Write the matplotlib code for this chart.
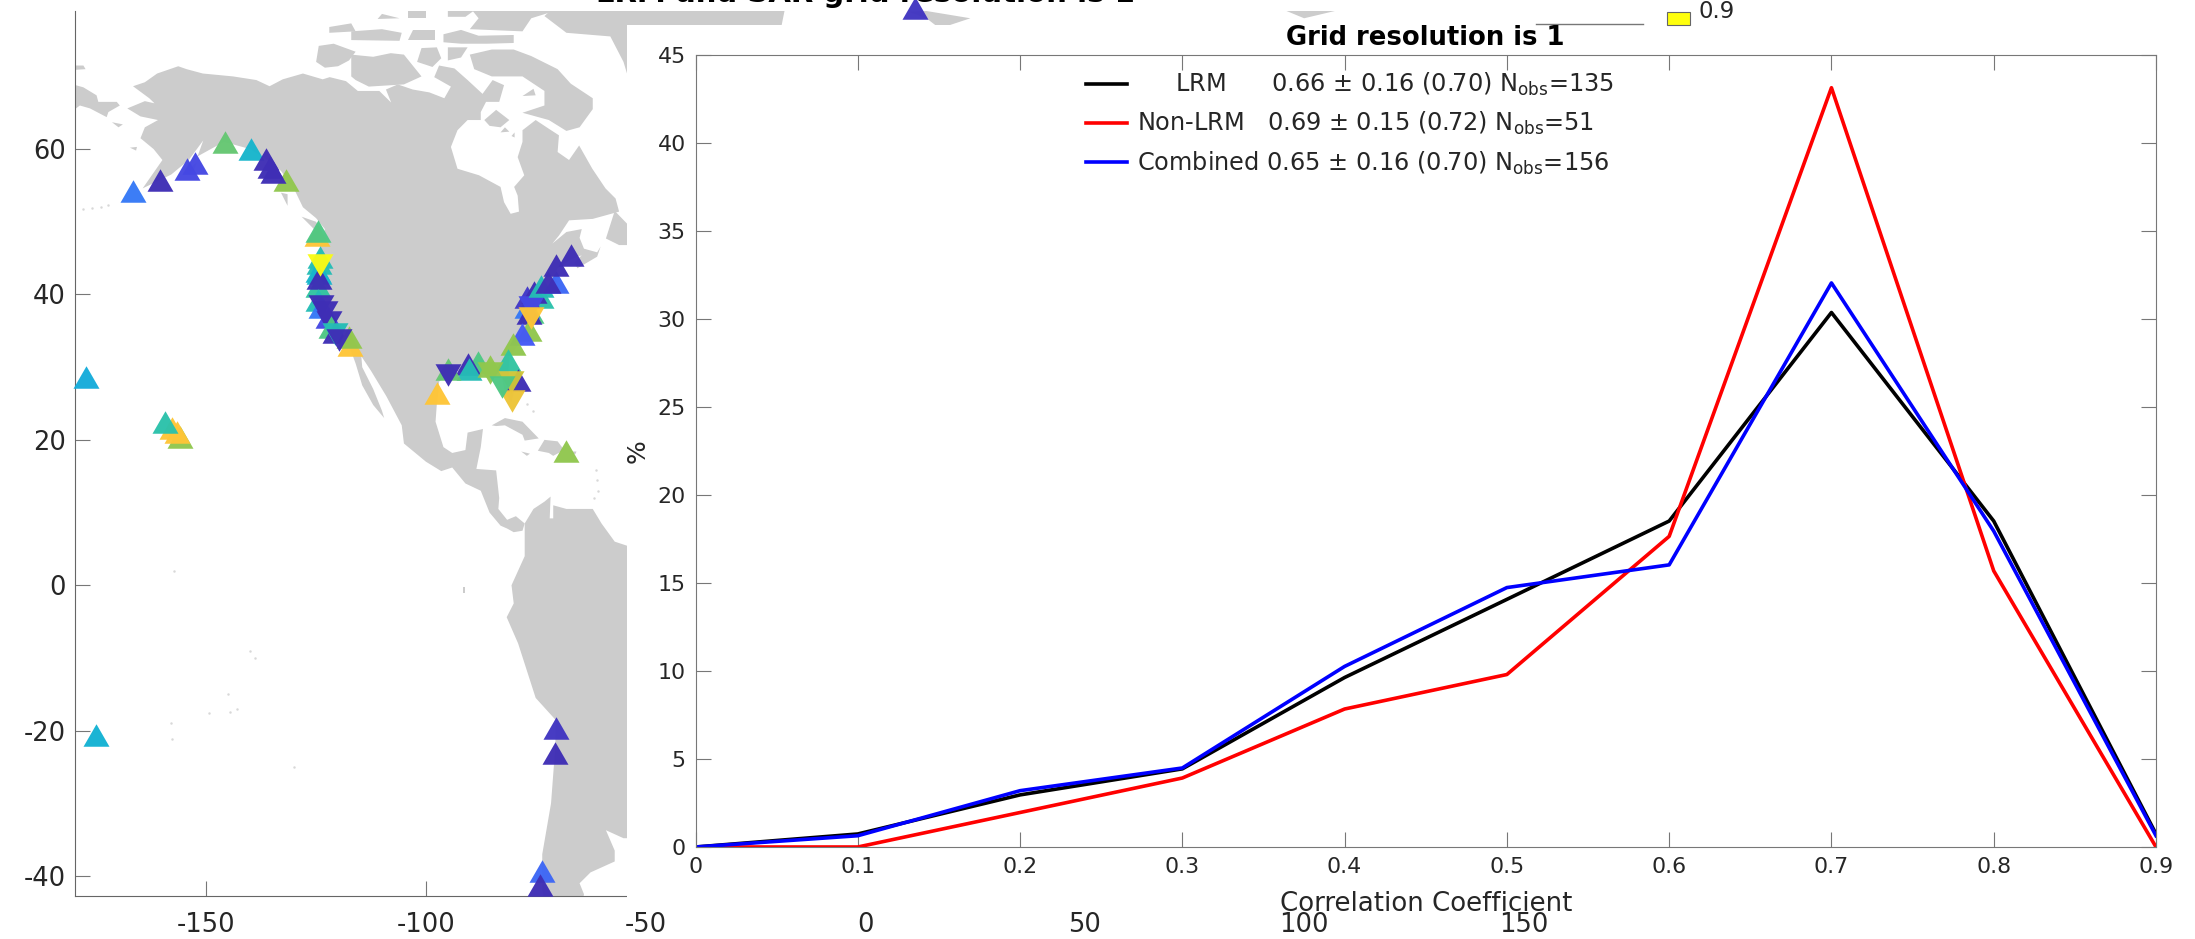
import numpy as np
from matplotlib import pyplot as plt
from matplotlib.colors import LinearSegmentedColormap
from matplotlib.patches import Rectangle

plt.rcParams['axes.unicode_minus']=False

W=2195.
H=939.

# histogram of correlation coefficient
bins=[0,0.1,0.2,0.3,0.4,0.5,0.6,0.7,0.8,0.9]
pct_lrm=[0,0.74,2.96,4.44,9.63,14.07,18.52,30.37,18.52,0.74]
pct_non=[0,0,1.96,3.92,7.84,9.8,17.65,43.14,15.69,0]
pct_com=[0,0.64,3.2,4.49,10.26,14.74,16.03,32.05,17.95,0.64]
lab_lrm=r'     LRM      0.66 $\pm$ 0.16 (0.70) N$_{\mathrm{obs}}$=135'
lab_non=r'Non-LRM   0.69 $\pm$ 0.15 (0.72) N$_{\mathrm{obs}}$=51'
lab_com=r'Combined 0.65 $\pm$ 0.16 (0.70) N$_{\mathrm{obs}}$=156'

# stations, in drawing order
stn_lon=[-166.6,-160.6,-154.4,-152.6,-145.7,-139.8,-131.8,-136.4,-135.6,-134.8,
         -124.8,-124.6,-124.2,-124.4,-124.6,-124.4,-124.6,-124.3,-124.2,
         -124.6,-123.8,-122.3,-123.8,-123,-122.1,-121.6,-120.8,-120.8,
         -117.2,-117.5,-119.7,
         -76.1,-76.9,-76.5,-76.5,-78,-73.8,-76.9,-75.3,-76,-76.1,-73.8,-70.3,-72.3,-70.4,-67,
         -80.1,-81.4,-88.2,-90.3,-90.1,-95,-95,-97.5,-85.3,-85.3,-79.1,-80.6,-80.3,-82.7,
         -68.2,-177.4,-156,-156.7,-157.9,-159.5,-175.2,-70.3,-70.6,-73.6,-74.1,11.5]
stn_lat=[54.3,55.7,57.2,58.1,61,60,55.7,58.7,57.55,56.9,
         48.2,48.8,45.2,44.4,43.3,42.9,41.1,42.2,44.1,
         39.2,38.3,36.9,38.4,37.6,36.2,35.5,34.8,34.6,
         33.1,34.1,33.8,
         37.6,38.3,37.4,35.1,34.6,39.6,39.6,40.3,38.3,36.7,41.2,41.7,41.7,44,45.4,
         33.2,31,30.7,30.5,29.8,29.8,28.9,26.5,30.1,29.2,28.3,27.9,25.3,27.3,
         18.5,28.6,20.4,21.1,21.7,22.4,-20.6,-19.6,-23.1,-39.3,-41.3,79.4]
stn_r=[0.3,0.12,0.19,0.19,0.6,0.46,0.645,0.12,0.12,0.12,
       0.79,0.58,0.5,0.5,0.46,0.46,0.54,0.12,0.9,
       0.5,0.3,0.19,0.12,0.12,0.12,0.58,0.12,0.5,
       0.79,0.645,0.12,
       0.58,0.3,0.12,0.645,0.23,0.52,0.15,0.12,0.19,0.79,0.5,0.26,0.12,0.12,0.12,
       0.645,0.54,0.58,0.12,0.5,0.6,0.12,0.79,0.645,0.645,0.12,0.72,0.76,0.58,
       0.645,0.43,0.645,0.79,0.79,0.52,0.45,0.14,0.12,0.26,0.12,0.14]
stn_down=[0,0,0,0,0,0,0,0,0,0,
          0,0,0,0,0,0,0,0,1,
          0,0,0,1,1,1,0,0,1,
          0,0,1,
          0,0,0,0,0,0,0,0,1,1,0,0,0,0,0,
          0,0,0,0,0,0,1,0,0,1,0,1,1,1,
          0,0,0,0,0,0,0,0,0,0,0,0]

# land, lon/lat outlines
north_america=[(-166.7,68.65),(-164,69.2),(-161.2,70.4),(-156.4,71.4),(-154.5,71),(-150.8,70.4),(-143.9,70),
 (-138.6,69.5),(-135.6,68.65),(-132.6,69.6),(-128,70.4),(-123.5,69.6),(-121.9,69.9),(-118.2,69.35),(-115.5,68),
 (-110.6,68),(-107.9,66.4),(-109.1,68.2),(-106.4,68.9),(-103,68.2),(-99.2,67.8),(-95.8,67),(-94.3,68.6),(-98.1,69.9),
 (-97,71.5),(-93.5,71.1),(-90.5,69.5),(-87.1,67.6),(-84.8,69.5),(-82.2,68.8),(-83.3,66.5),(-86.3,66.5),(-87.5,65.1),
 (-87.5,64),(-90.5,64),(-92.8,62.6),(-94.3,60.3),(-92.8,57.3),(-87.9,56.4),(-83,54.8),(-82.2,52.7),(-80.7,51.1),
 (-78.8,51.4),(-79.1,53.6),(-79.9,54.8),(-77.6,56.4),(-79.1,58.9),(-78,61),(-78,62.6),(-75,64),(-72,62.8),(-69.7,61.9),
 (-70,59.6),(-67.4,58.5),(-65.1,60.5),(-62.1,57.3),(-59.1,54.6),(-56.8,53.2),(-56,51.4),(-62,50.4),(-67.4,50.2),
 (-69.7,48.1),(-71.2,47),(-68,48.6),(-64.5,49),(-65,47.8),(-64,46.3),(-61,45.8),(-60.2,46.6),(-61,45.2),(-65.5,43.6),
 (-66.2,44.4),(-64.5,45.4),(-67,44.8),(-70,43.6),(-70.8,42.5),(-70,41.7),(-74,40.6),(-75.5,38),(-76,35.5),(-78,33.8),
 (-81,31.5),(-81.2,29.5),(-80,26.5),(-80.5,25.2),(-82,26.5),(-82.8,29),(-84.5,30),(-89,30.3),(-90,29.2),(-94,29.5),
 (-97,28),(-97.5,25),(-97.8,22.5),(-96,19),(-94,18.2),(-91,18.6),(-90.5,21),(-87,21.5),(-87.5,19),(-88.5,16),(-84,15.8),
 (-83.3,12),(-83.5,10.5),(-81.5,9),(-79.5,9.5),(-77.5,8.5),(-78,7.5),(-80,7.3),(-81.5,7.8),(-83,8.2),(-85.5,10),
 (-87.5,13),(-91,14),(-94,16.2),(-96.5,15.7),(-100,17),(-105,19.5),(-105.5,22),(-109,26),(-112.5,29.5),(-114.7,31.5),
 (-114.5,30),(-112,27),(-110,24),(-109.5,23),(-112,24.8),(-114.5,27.5),(-116,30.5),(-117.2,32.5),(-118.5,34),
 (-120.5,34.5),(-122,37),(-124,40.3),(-124.3,43),(-124,47),(-123,49),(-125,50.5),(-128,52),(-130,54.5),(-133,57),
 (-136,58.5),(-140,60),(-146,61),(-149,60),(-152,59),(-150.7,61.2),(-154,58.5),(-158,56.5),(-164.5,54.6),(-160,58.5),
 (-162,60),(-165,61.5),(-164,63),(-161,64),(-165,64.5),(-168,65.6),(-164,66.6),(-161.8,66.3),(-163,67)]
south_america=[(-77.5,8.5),(-75.5,10.5),(-73,11.5),(-71.6,12.2),(-71.8,9.2),(-71,9.2),(-71,11),(-68,10.5),(-64,10.5),(-62,10.5),
 (-60,8.5),(-57,6),(-52,5),(-50,1),(-44,-2.5),(-35,-7),(-39,-15),(-41,-22),(-48,-26),(-50.6,-34.8),(-55,-34.8),(-59,-33.7),(-57,-36.5),(-57,-38),
 (-62.5,-39.5),(-65,-41),(-64,-42.5),(-65,-46),(-72,-46),(-73.5,-42),(-73.5,-37),(-71.5,-30),(-70.5,-22),(-70.5,-18.5),(-75,-15.5),
 (-79,-8),(-81.6,-4.4),(-80,-2.5),(-80.5,0),(-79,2),(-77.5,4),(-77.5,7)]
chukotka=[(-181,69),(-178,68.5),(-175,67.4),(-174.6,66.5),(-170.4,66.5),(-169.7,66),(-172.3,65.1),(-172.7,64.4),(-176.5,65.6),(-178.8,66),(-181,65)]
greenland=[(-73,78.3),(-68,76),(-58,75.5),(-55,72),(-53,68),(-51,64),(-44,60),(-20,70),(-19,77),(-18,80),(-70,80)]
islands=[
 [(-125,72),(-124.4,74.2),(-121,74.5),(-116,73.4),(-117.5,72.2),(-120,71.4),(-123,71.2)],
 [(-117,70),(-117,73),(-112,72.7),(-108,73.2),(-105,73),(-101,70),(-105,68.9),(-113,68.6),(-116,69.5)],
 [(-102,72),(-101,73.9),(-97.5,74),(-96.5,72.5),(-98.5,71.3)],
 [(-95,72.2),(-95,74),(-90.5,74),(-92,72.6)],
 [(-90,73),(-85,73.7),(-80,73.7),(-76,72.8),(-70,71),(-67,69),(-62,67),(-62,65.5),(-65,63),(-68,62.5),(-72,64),(-78,65),(-73,66),(-73,68),(-78,70),(-85,70),(-89,71)],
 [(-96,74.7),(-92,74.5),(-86,74.5),(-80,74.6),(-80,75.7),(-88,75.6),(-92,76.4),(-96,75.8)],
 [(-90,76.5),(-78,76.2),(-76,78),(-68,79.5),(-90,79.5),(-88,78)],
 [(-95,78.2),(-91,78.2),(-88,79.5),(-95,79.5)],
 [(-117,75),(-106,74.9),(-105.5,76),(-110,76.5),(-117,76.2)],
 [(-104,75),(-98,75),(-98,76.4),(-103,76.4)],
 [(-122,76),(-116,76.2),(-117,77.3),(-122,76.8)],
 [(-104,78),(-100,78),(-100,79),(-104,79)],
 [(-111,77.9),(-106,78),(-110,78.6)],
 [(-86.7,64),(-84,65.4),(-81,64),(-83,63),(-85.5,63.2)],
 [(-83,62.3),(-81,62.4),(-82,63)],
 [(-80.5,61.8),(-79.8,61.6),(-79.8,62.3)],
 [(-78,67.3),(-75,67.4),(-75.5,68.3)],
 [(-128.3,50.7),(-125,50),(-123.5,48.5),(-125,48.7)],
 [(-133,54),(-131.5,53.8),(-131.5,52.2)],
 [(-59,47.7),(-57,51.5),(-53,49),(-52.7,46.8),(-56,46.8)],
 [(-85,22),(-82,23),(-78,22.5),(-74.3,20.2),(-77.5,19.9),(-78,20.7),(-82,22),(-84,21.9)],
 [(-74.5,18.5),(-73,20),(-70,19.8),(-68.5,18.6),(-71,17.8),(-72,18.2)],
 [(-78.3,18.4),(-76.3,18.1),(-77,17.8)],
 [(-67.2,18.4),(-65.7,18.4),(-66,18)],
 [(-171.5,63.7),(-169,63.4),(-170,63)],
 [(-167.4,60.2),(-165.8,60.3),(-166,59.8)],
 [(-154.5,57),(-152.2,58.2),(-152.8,57)],
 [(-180,71.5),(-178,71.5),(-177.5,71),(-180,70.9)],
 [(-91.6,-0.2),(-91,-0.2),(-91,-1),(-91.5,-1)],
 [(10,78.9),(14,79),(24,78),(17,76.6),(14,78)],
 [(96,79),(107,79),(100,78)],
]
tiny_lon=[-157.4,-140,-139,-145,-144.6,-143,-149.5,-157.8,-158,-130.1,-61.3,-61,-60.8,-61.7,-77,-75.5,-178,-176,-174,-172.5]
tiny_lat=[1.9,-9,-10,-15,-17.5,-17,-17.6,-21.2,-19,-25,15.8,14.5,13,12,25,24,51.8,51.9,52.1,52.3]

# parula, more or less
parula=LinearSegmentedColormap.from_list('parula',[(0.2422,0.1504,0.6603),(0.2810,0.3228,0.9579),(0.1786,0.5289,0.9682),
   (0.0689,0.6948,0.8394),(0.2161,0.7843,0.5923),(0.6720,0.7793,0.2227),(0.9970,0.7659,0.2199),(0.9769,0.9839,0.0805)])

tri_up=[(-1,-0.866),(1,-0.866),(0,0.866)]
tri_dn=[(-1,0.866),(1,0.866),(0,-0.866)]

fig=plt.figure(figsize=(W/100,H/100),dpi=100,facecolor='w')

# map
ax1=fig.add_axes([74.6/W,1-896/H,(1655.4-74.6)/W,(896-11)/H],zorder=1)
ax1.set_xlim(-180,180)
ax1.set_ylim(-42.75,79)
land=[north_america,south_america,chukotka,greenland]+islands
for p in land:
   a=np.array(p)
   ax1.fill(a[:,0],a[:,1],color='#cccccc',lw=0,zorder=1)
ax1.plot(tiny_lon,tiny_lat,'.',color='#d8d8d8',ms=1.5,zorder=1)
for i in range(len(stn_lon)):
   mk=tri_dn if stn_down[i] else tri_up
   ax1.scatter([stn_lon[i]],[stn_lat[i]],c=[stn_r[i]],cmap=parula,vmin=0.1,vmax=0.9,marker=mk,s=350,
               alpha=0.97,linewidths=0,zorder=3,clip_on=False)
ax1.set_xticks(np.arange(-150,151,50))
ax1.set_yticks(np.arange(-40,61,20))
ax1.tick_params(direction='in',length=11,width=0.8,color='#777777',labelsize=18.5,labelcolor='#262626')
ax1.tick_params(axis='x',pad=11.5)
ax1.tick_params(axis='y',pad=6.5)
ax1.spines['top'].set_visible(False)
ax1.spines['right'].set_visible(False)
for s in ['left','bottom']:
   ax1.spines[s].set_color('#666666')
fig.text(865/W,1-2/H,'LRM and SAR grid resolution is 1',ha='center',va='baseline',fontsize=21,fontweight='bold')

# white box the histogram sits in, hides the right part of the map
fig.add_artist(Rectangle((627/W,1-898.5/H),(W-627)/W,(898.5-25)/H,transform=fig.transFigure,facecolor='w',edgecolor='none',zorder=1.5))

# colorbar leftovers
fig.add_artist(Rectangle((1667/W,1-25/H),23/W,13/H,transform=fig.transFigure,facecolor=(1,1,0.05),edgecolor='#666666',lw=0.8,zorder=2))
fig.add_artist(plt.Line2D([1536/W,1643/W],[1-24/H,1-24/H],color='#777777',lw=1,zorder=2))
fig.text(1699/W,1-12/H,'0.9',ha='left',va='center',fontsize=16.4,color='#262626',zorder=2)

# histogram
ax2=fig.add_axes([695.5/W,1-847/H,(2156-695.5)/W,(847-55)/H],zorder=2)
ax2.plot(bins,pct_lrm,'k-',lw=2.6,label=lab_lrm)
ax2.plot(bins,pct_non,'r-',lw=2.6,label=lab_non)
ax2.plot(bins,pct_com,'b-',lw=2.6,label=lab_com)
ax2.set_xlim(0,0.9)
ax2.set_ylim(0,45)
ax2.set_xticks(bins)
ax2.set_xticklabels(['0','0.1','0.2','0.3','0.4','0.5','0.6','0.7','0.8','0.9'])
ax2.set_yticks(np.arange(0,46,5))
ax2.tick_params(direction='in',length=11,width=0.8,color='#777777',labelsize=15.9,labelcolor='#262626',top=True,right=True,pad=7)
for s in ax2.spines.values():
   s.set_color('#777777')
ax2.set_title('Grid resolution is 1',fontsize=18.6,fontweight='bold',pad=7.2)
ax2.set_xlabel('Correlation Coefficient',fontsize=18.7,color='#262626',labelpad=10)
fig.text(638/W,1-451/H,'%',rotation=90,ha='center',va='center',fontsize=18,color='#262626',zorder=3)
leg=ax2.legend(loc='upper left',bbox_to_anchor=((1086-695.5)/1460.5,1-(71-55)/792.),borderpad=0,borderaxespad=0,frameon=False,
               fontsize=17.3,labelspacing=0.5,handlelength=1.7,handletextpad=0.42,labelcolor='#262626')

plt.savefig('out.png',dpi=100)
